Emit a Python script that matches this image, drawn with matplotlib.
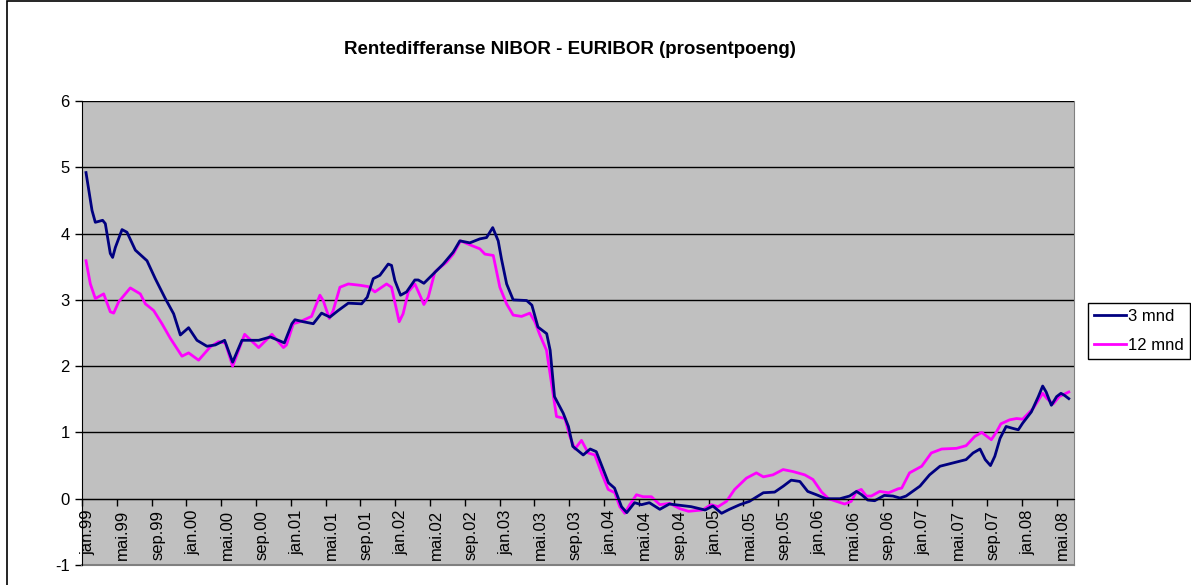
import matplotlib
matplotlib.use("Agg")
import matplotlib.pyplot as plt
import matplotlib.transforms as mtransforms
from matplotlib.patches import Rectangle

plt.rcParams['font.family'] = ['Liberation Sans', 'DejaVu Sans']
plt.rcParams['axes.unicode_minus'] = False

# months since jan.99, value in percentage points
m3_x = [0.46, 1.15, 1.53, 2.37, 2.68, 3.25, 3.52, 3.83, 4.60, 5.17, 6.13, 7.47, 8.42,
        9.57, 10.53, 11.30, 12.25, 13.21, 14.36, 15.32, 16.39, 17.31, 18.38, 20.30,
        21.64, 22.75, 23.25, 24.12, 24.47, 25.43, 26.58, 27.53, 28.49, 29.45, 30.60,
        32.13, 32.78, 33.47, 34.23, 35.19, 35.57, 35.96, 36.61, 37.30, 38.25, 38.64,
        39.29, 40.36, 41.51, 42.66, 43.42, 44.57, 45.72, 46.49, 47.2, 47.83, 48.2,
        48.8, 49.55, 51.1, 51.7, 52.4, 53.4, 53.8, 54.3, 55.3, 55.9, 56.4, 57.6,
        58.4, 59.1, 59.9, 60.5, 61.2, 62.0, 62.6, 63.5, 64.3, 65.2, 66.4, 67.5,
        68.7, 70.0, 71.6, 72.5, 73.5, 74.4, 75.6, 76.7, 78.3, 79.6, 80.6, 81.5,
        82.5, 83.4, 84.4, 85.5, 87.1, 88.2, 89.0, 89.6, 90.3, 91.1, 92.2, 93.2,
        94.0, 94.7, 96.3, 97.4, 98.6, 100.1, 101.6, 102.4, 103.2, 103.8, 104.4,
        104.9, 105.5, 106.2, 107.0, 107.6, 108.1, 109.1, 109.9, 110.4, 110.8,
        111.4, 112.0, 112.5, 112.9, 113.4]
m3_y = [4.92, 4.35, 4.17, 4.20, 4.15, 3.70, 3.64, 3.79, 4.06, 4.02, 3.75, 3.59, 3.32,
        3.02, 2.79, 2.47, 2.58, 2.39, 2.30, 2.32, 2.39, 2.06, 2.39, 2.39,
        2.44, 2.38, 2.35, 2.64, 2.70, 2.67, 2.64, 2.80, 2.74, 2.84, 2.95,
        2.94, 3.04, 3.32, 3.37, 3.54, 3.52, 3.29, 3.07, 3.12, 3.30, 3.30,
        3.25, 3.39, 3.54, 3.72, 3.89, 3.86, 3.92, 3.94, 4.09, 3.89, 3.62,
        3.24, 3.00, 2.99, 2.92, 2.59, 2.49, 2.24, 1.54, 1.29, 1.09, 0.79, 0.66,
        0.75, 0.71, 0.44, 0.24, 0.16, -0.12, -0.21, -0.06, -0.09, -0.06, -0.16, -0.08,
        -0.10, -0.12, -0.17, -0.11, -0.22, -0.16, -0.09, -0.04, 0.09, 0.10, 0.19, 0.28,
        0.26, 0.11, 0.06, 0.00, 0.00, 0.04, 0.11, 0.06, -0.02, -0.03, 0.05, 0.04,
        0.01, 0.04, 0.19, 0.36, 0.49, 0.54, 0.59, 0.69, 0.75, 0.59, 0.50,
        0.64, 0.91, 1.09, 1.06, 1.04, 1.14, 1.31, 1.54, 1.70, 1.61,
        1.41, 1.54, 1.59, 1.56, 1.51]

m12_x = [0.46, 0.96, 1.53, 2.49, 3.25, 3.64, 4.21, 5.55, 6.70, 7.28, 8.23, 9.19,
         10.15, 11.49, 12.25, 13.40, 14.74, 15.70, 16.47, 17.31, 18.69, 20.30,
         21.83, 23.15, 23.5, 24.28, 25.04, 26.38, 27.34, 27.72, 28.42, 28.87,
         29.64, 30.60, 31.94, 32.90, 33.66, 35.00, 35.57, 36.45, 36.90, 37.50,
         38.25, 38.83, 39.29, 39.79, 40.55, 41.90, 42.66, 43.50, 44.77, 45.72,
         46.30, 47.26, 48.02, 48.79, 49.55, 50.51, 51.47, 52.04, 52.62, 53.38,
         53.84, 54.53, 55.50, 56.06, 56.64, 57.40, 58.17, 58.93, 59.70, 60.47,
         61.23, 61.80, 62.37, 62.95, 63.72, 64.48, 65.44, 66.40, 67.55, 68.70,
         69.70, 71.3, 72.3, 73.1, 74.06, 75.0, 76.35, 77.5, 78.3, 79.4, 80.57,
         81.7, 83.06, 84.0, 85.0, 85.8, 86.7, 87.65, 88.4, 89.0, 89.56, 90.14,
         90.7, 91.67, 92.7, 93.8, 94.2, 95.1, 96.5, 97.6, 98.8, 100.5, 101.6,
         102.6, 103.4, 104.0, 104.5, 105.1, 105.6, 106.6, 107.4, 108.1, 109.3,
         110.4, 110.9, 111.6, 112.3, 113.4]
m12_y = [3.59, 3.24, 3.02, 3.09, 2.82, 2.80, 2.97, 3.18, 3.09, 2.94, 2.84, 2.64,
         2.42, 2.15, 2.20, 2.09, 2.29, 2.37, 2.35, 2.00, 2.48, 2.28,
         2.48, 2.28, 2.32, 2.64, 2.67, 2.75, 3.07, 2.99, 2.72, 2.84,
         3.19, 3.24, 3.22, 3.20, 3.12, 3.24, 3.19, 2.67, 2.79, 3.12,
         3.24, 3.07, 2.93, 3.04, 3.42, 3.57, 3.69, 3.89, 3.82, 3.77,
         3.69, 3.67, 3.19, 2.94, 2.77, 2.75, 2.80, 2.67, 2.47, 2.24,
         1.84, 1.24, 1.21, 0.94, 0.75, 0.88, 0.69, 0.66, 0.39, 0.14,
         0.09, -0.12, -0.22, -0.09, 0.06, 0.03, 0.03, -0.09, -0.07, -0.15,
         -0.19, -0.17, -0.09, -0.12, -0.04, 0.14, 0.31, 0.39, 0.33, 0.36, 0.44,
         0.41, 0.36, 0.29, 0.10, 0.00, -0.04, -0.08, -0.04, 0.11, 0.14, 0.04,
         0.04, 0.11, 0.09, 0.15, 0.16, 0.39, 0.49, 0.69, 0.75, 0.76, 0.80,
         0.94, 1.00, 0.94, 0.89, 1.01, 1.13, 1.19, 1.21, 1.20, 1.36,
         1.59, 1.51, 1.43, 1.54, 1.61]

tick_pos = list(range(0, 113, 4))
tick_labels = ['jan.99', 'mai.99', 'sep.99', 'jan.00', 'mai.00', 'sep.00',
               'jan.01', 'mai.01', 'sep.01', 'jan.02', 'mai.02', 'sep.02',
               'jan.03', 'mai.03', 'sep.03', 'jan.04', 'mai.04', 'sep.04',
               'jan.05', 'mai.05', 'sep.05', 'jan.06', 'mai.06', 'sep.06',
               'jan.07', 'mai.07', 'sep.07', 'jan.08', 'mai.08']

fig = plt.figure(figsize=(11.91, 5.85), dpi=100)
ax = fig.add_axes([82/1191, 1-565/585, (1074-82)/1191, (565-101)/585])
ax.set_facecolor('#C0C0C0')

# chart area border
fig.patches.append(Rectangle((7/1191, -0.1), 1.2, 1.1 - 1/585, transform=fig.transFigure,
                             fill=False, edgecolor='black', linewidth=1.2))

ax.plot(m3_x, m3_y, color='#000080', lw=2.0, label='3 mnd', zorder=4)
ax.plot(m12_x, m12_y, color='#FF00FF', lw=2.0, label='12 mnd', zorder=3)

ax.set_xlim(0, 114)
ax.set_ylim(-1, 6)
ax.set_yticks(range(-1, 7))
ax.yaxis.grid(True, color='black', lw=1.0)
ax.set_axisbelow(True)

ax.spines['top'].set_visible(False)
ax.spines['right'].set_color('#808080')
ax.spines['left'].set_color('black')
ax.spines['bottom'].set_position(('data', 0))
ax.spines['bottom'].set_color('black')
ax.spines['bottom'].set_zorder(5)
ax.add_line(plt.Line2D([0, 1], [0, 0], transform=ax.transAxes, color='#808080', lw=1.5,
                       clip_on=False))

ax.set_xticks(tick_pos)
ax.set_xticklabels(tick_labels, rotation=90, fontsize=12, va='top', ha='center')
ax.tick_params(axis='x', direction='out', length=5, width=1, pad=3)
ax.tick_params(axis='y', direction='out', length=5, width=1, labelsize=12, pad=4)
offset = mtransforms.ScaledTranslation(6/100, 0, fig.dpi_scale_trans)
for lab in ax.get_xticklabels():
    lab.set_transform(lab.get_transform() + offset)

fig.text(570/1191, 1-50/585, 'Rentedifferanse NIBOR - EURIBOR (prosentpoeng)',
         ha='center', va='center', fontsize=13.5, fontweight='bold')

leg = fig.legend(loc='upper left', bbox_to_anchor=(1088/1191, 1-303/585), fontsize=12,
                 frameon=True, fancybox=False, edgecolor='black', framealpha=1,
                 handlelength=1.9, borderpad=0.35, labelspacing=0.85, handletextpad=0.15,
                 borderaxespad=0)
leg.get_frame().set_linewidth(1.0)

fig.savefig('out.png', dpi=100)
